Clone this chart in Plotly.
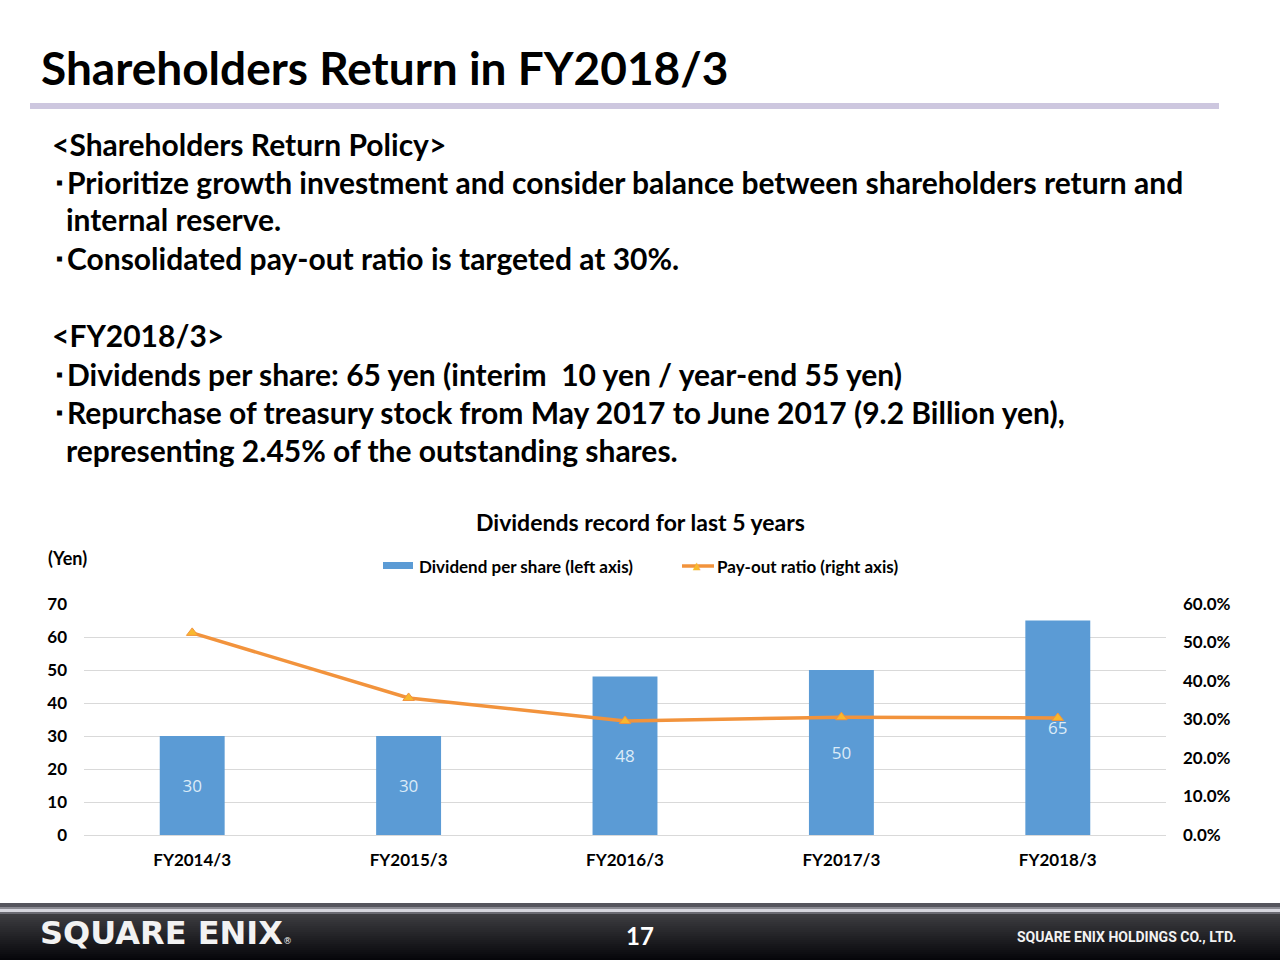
import plotly.graph_objects as go

# ---------------- data ----------------
categories = ["FY2014/3", "FY2015/3", "FY2016/3", "FY2017/3", "FY2018/3"]
dividends = [30, 30, 48, 50, 65]            # yen, left axis
payout = [52.5, 35.6, 29.6, 30.6, 30.4]     # %, right axis
left_ticks = [0, 10, 20, 30, 40, 50, 60, 70]
right_ticks = [0, 10, 20, 30, 40, 50, 60]
right_tick_labels = ["0.0%", "10.0%", "20.0%", "30.0%", "40.0%", "50.0%", "60.0%"]

W, H = 1280, 960


def X(x):
    return x / W


def Y(y):
    return 1 - y / H


FONT = "Lato"
BAR_C = "#5b9bd5"
LINE_C = "#f2933c"
MARK_C = "#f8b82e"

fig = go.Figure()
fig.add_trace(go.Bar(
    x=categories, y=dividends, yaxis="y", width=0.3,
    marker=dict(color=BAR_C, line=dict(width=0)),
    texttemplate="%{y}", textposition="inside", insidetextanchor="middle",
    textfont=dict(family="Open Sans", size=17, color="#dcebf8"),
    showlegend=False, hoverinfo="skip",
))
fig.add_trace(go.Scatter(
    x=categories, y=payout, yaxis="y2", mode="lines+markers",
    line=dict(color=LINE_C, width=3.5),
    marker=dict(symbol="triangle-up", size=10, color=MARK_C,
                line=dict(color=LINE_C, width=1)),
    showlegend=False, hoverinfo="skip",
))

tick_font = dict(family=FONT, size=17, color="#000000", weight="bold")

fig.update_layout(
    width=W, height=H, autosize=False,
    margin=dict(l=0, r=0, t=0, b=0, pad=0, autoexpand=False),
    paper_bgcolor="white", plot_bgcolor="white",
    showlegend=False,
    xaxis=dict(domain=[X(84), X(1166)], anchor="y", showgrid=False,
               automargin=False, showline=False, ticks="", tickfont=tick_font,
               ticklabelstandoff=13),
    yaxis=dict(domain=[Y(835), Y(604)], range=[0, 70], tickvals=left_ticks,
               automargin=False,
               showgrid=True, gridcolor="#d9d9d9", gridwidth=1,
               zeroline=True, zerolinecolor="#d9d9d9", zerolinewidth=1,
               showline=False, ticks="", tickfont=tick_font,
               ticklabelstandoff=16),
    yaxis2=dict(overlaying="y", side="right", anchor="x", range=[0, 60],
                automargin=False,
                tickvals=right_ticks, ticktext=right_tick_labels,
                showgrid=False, zeroline=False, showline=False, ticks="",
                tickfont=tick_font, ticklabelstandoff=16),
)

shapes = []
annotations = []

# header line
shapes.append(dict(type="rect", xref="paper", yref="paper",
                   x0=X(30), x1=X(1219), y0=Y(109), y1=Y(103),
                   fillcolor="#cdc7df", line=dict(width=0), layer="above"))

# title
annotations.append(dict(text="<b>Shareholders Return in FY2018/3</b>",
                        x=X(39), y=Y(67), xref="paper", yref="paper",
                        xanchor="left", yanchor="middle", showarrow=False,
                        font=dict(family=FONT, size=46, color="#000000")))

BUL = "･"
body = [
    (50, 144, "&lt;Shareholders Return Policy&gt;"),
    (50, 182, BUL + "Prioritize growth investment and consider balance between shareholders return and"),
    (64, 219, "internal reserve."),
    (50, 258, BUL + "Consolidated pay-out ratio is targeted at 30%."),
    (50, 335, "&lt;FY2018/3&gt;"),
    (50, 374, BUL + "Dividends per share: 65 yen (interim&nbsp; 10 yen / year-end 55 yen)"),
    (50, 412, BUL + "Repurchase of treasury stock from May 2017 to June 2017 (9.2 Billion yen),"),
    (64, 450, "representing 2.45% of the outstanding shares."),
]
for bx, by, t in body:
    annotations.append(dict(text="<b>" + t + "</b>", x=X(bx), y=Y(by),
                            xref="paper", yref="paper", xanchor="left",
                            yanchor="middle", showarrow=False,
                            font=dict(family=FONT, size=30, color="#000000")))

# chart title
annotations.append(dict(text="<b>Dividends record for last 5 years</b>",
                        x=X(640), y=Y(522), xref="paper", yref="paper",
                        xanchor="center", yanchor="middle", showarrow=False,
                        font=dict(family=FONT, size=23, color="#000000")))
# (Yen)
annotations.append(dict(text="<b>(Yen)</b>", x=X(46), y=Y(558),
                        xref="paper", yref="paper", xanchor="left",
                        yanchor="middle", showarrow=False,
                        font=dict(family=FONT, size=18, color="#000000")))

# manual legend
shapes.append(dict(type="rect", xref="paper", yref="paper",
                   x0=X(383), x1=X(413), y0=Y(569), y1=Y(562),
                   fillcolor=BAR_C, line=dict(width=0)))
annotations.append(dict(text="<b>Dividend per share (left axis)</b>",
                        x=X(417), y=Y(566), xref="paper", yref="paper",
                        xanchor="left", yanchor="middle", showarrow=False,
                        font=dict(family=FONT, size=17, color="#000000")))
shapes.append(dict(type="line", xref="paper", yref="paper",
                   x0=X(682), x1=X(714), y0=Y(566), y1=Y(566),
                   line=dict(color=LINE_C, width=3.5)))
annotations.append(dict(text="▲", x=X(697), y=Y(565), xref="paper",
                        yref="paper", xanchor="center", yanchor="middle",
                        showarrow=False,
                        font=dict(family="DejaVu Sans", size=10, color=MARK_C)))
annotations.append(dict(text="<b>Pay-out ratio (right axis)</b>",
                        x=X(715), y=Y(566), xref="paper", yref="paper",
                        xanchor="left", yanchor="middle", showarrow=False,
                        font=dict(family=FONT, size=17, color="#000000")))

# footer band: stacked rects, each running to the bottom (no seams)
footer = [
    (903, "#55555d"),
    (907, "#8a8a92"),
    (909, "#d6d6de"),
    (912, "#6a6a72"),
]
n = 24
for i in range(n):
    t = i / (n - 1)
    v = int(round(60 * (1 - t) + 4 * t))
    footer.append((914 + i * 2, "rgb(%d,%d,%d)" % (v, v, v + 4)))
for y0, c in footer:
    shapes.append(dict(type="rect", xref="paper", yref="paper",
                       x0=0, x1=1, y0=0, y1=Y(y0), fillcolor=c,
                       line=dict(width=0), layer="above"))

annotations.append(dict(text="<b>SQUARE ENIX</b><span style='font-size:9px'>®</span>",
                        x=X(38), y=Y(933), xref="paper", yref="paper",
                        xanchor="left", yanchor="middle", showarrow=False,
                        font=dict(family="DejaVu Sans", size=32, color="#f2f2f2")))
annotations.append(dict(text="<b>17</b>", x=X(640), y=Y(935), xref="paper",
                        yref="paper", xanchor="center", yanchor="middle",
                        showarrow=False,
                        font=dict(family=FONT, size=24, color="#ffffff")))
annotations.append(dict(text="<b>SQUARE ENIX HOLDINGS CO., LTD.</b>",
                        x=X(1238), y=Y(937), xref="paper", yref="paper",
                        xanchor="right", yanchor="middle", showarrow=False,
                        font=dict(family="Roboto", size=14, color="#f2f2f2")))

fig.update_layout(shapes=shapes, annotations=annotations)

page_js = (
    "document.documentElement.style.margin='0';"
    "document.body.style.margin='0';"
    "document.documentElement.style.overflow='hidden';"
    "document.body.style.overflow='hidden';"
)
fig.write_html("out.html", config={"displayModeBar": False},
               post_script=page_js)
